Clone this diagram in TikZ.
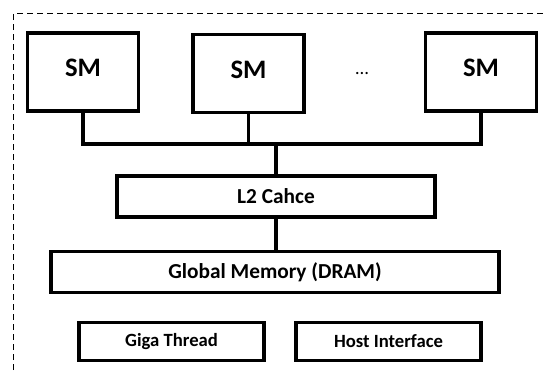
\documentclass[tikz,border=0pt]{standalone}
\usepackage{fontspec}
\setmainfont{Carlito}
\usepackage{tikz}
\usetikzlibrary{calc}
\definecolor{Ink}{HTML}{000000}

\begin{document}
\begin{tikzpicture}[x=.75pt,y=-.75pt,
    unit/.style={draw=Ink,line width=2.4pt,font=\fontsize{20}{24}\selectfont\bfseries,minimum width=111*.75pt,minimum height=78*.75pt,inner sep=0pt,text depth=6pt},
    bar/.style={draw=Ink,line width=2.4pt,font=\fontsize{16}{19}\selectfont\bfseries,minimum height=41*.75pt,inner sep=0pt},
    small/.style={bar,minimum width=185*.75pt,minimum height=38*.75pt,font=\fontsize{14}{17}\selectfont\bfseries},
    wire/.style={draw=Ink,line width=2.4pt}]
        \useasboundingbox(0,0)rectangle(545,372);
        \draw[Ink,line width=.8pt,dash pattern=on 4.5pt off 3pt](13.5,380)--(13.5,13.5)--(560,13.5);
        \node[unit](sm1)at(83,72){SM};
        \node[unit](sm2)at(248.5,73.5){SM};
        \node[unit](sm3)at(481,72){SM};
        \node[font=\fontsize{14}{17}\selectfont](dots)at(362,74){\dots};
        \node[bar,minimum width=318*.75pt](l2)at(276,196.5){L2 Cahce};
        \node[bar,minimum width=448*.75pt](gm)at(275,272){Global Memory (DRAM)};
        \node[small](giga)at(171.5,341.5){Giga Thread};
        \node[small](host)at(388.5,341.5){Host Interface};
        \coordinate(bus)at(276,144);
        \draw[wire](sm1.south)|-(bus)-|(sm3.south);
        \draw[wire](sm2.south)--(sm2.south|-bus);
        \draw[wire](bus)--(l2.north);
        \draw[wire](l2.south)--(l2.south|-gm.north);
      \end{tikzpicture}
\end{document}
